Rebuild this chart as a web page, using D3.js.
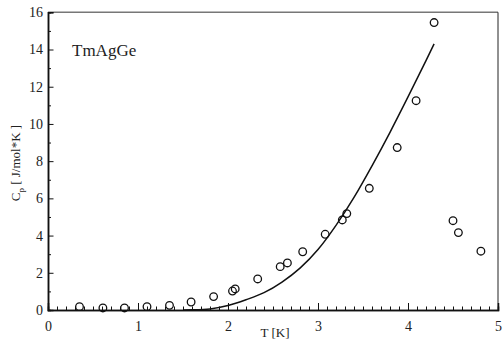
<!DOCTYPE html>
<html><head><meta charset="utf-8">
<script src="https://cdn.jsdelivr.net/npm/d3@7"></script>
<style>body{margin:0;background:#fff}svg{display:block}svg text{font-family:'Liberation Serif','Times New Roman',Times,'DejaVu Serif',serif !important;fill:#222}</style>
</head><body>
<script>
const dataT = [0.35,0.61,0.85,1.10,1.35,1.59,1.84,2.05,2.08,2.33,2.58,2.66,2.83,3.08,3.27,3.32,3.57,3.88,4.09,4.29,4.50,4.56,4.81];
const dataC = [0.18,0.11,0.11,0.18,0.25,0.43,0.72,1.02,1.13,1.67,2.33,2.53,3.13,4.07,4.84,5.18,6.54,8.73,11.25,15.45,4.80,4.16,3.16];
const fitT = [1.5,1.6,1.8,2.0,2.2,2.4,2.6,2.8,3.0,3.2,3.4,3.6,3.8,4.0,4.2,4.29];
const fitC = [0.0,0.01,0.06,0.24,0.55,0.93,1.5,2.25,3.25,4.55,6.05,7.75,9.55,11.45,13.4,14.3];
const xTicks = [0,1,2,3,4,5];
const yTicks = [0,2,4,6,8,10,12,14,16];
const title = "TmAgGe";

const W=503,H=343, L=48, R=498, T=12.3, B=310;
const svg=d3.select("body").append("svg").attr("width",W).attr("height",H);
const x=d3.scaleLinear().domain([0,5]).range([L,R]);
const y=d3.scaleLinear().domain([0,16]).range([B,T]);

// frame
svg.append("line").attr("x1",L).attr("x2",R).attr("y1",T).attr("y2",T).attr("stroke","#777").attr("stroke-width",1.5);
svg.append("line").attr("x1",R).attr("x2",R).attr("y1",T).attr("y2",B).attr("stroke","#222").attr("stroke-width",1);

// x axis
const xMinor=d3.range(0,50).map(i=>i/10).filter(v=>Math.abs(v-Math.round(v))>1e-6);
const gx=svg.append("g").attr("transform",`translate(0,${B})`);
gx.call(d3.axisBottom(x).tickValues(xMinor).tickSize(-3.5).tickFormat(""));
gx.append("g").call(d3.axisBottom(x).tickValues(xTicks).tickSize(-7).tickFormat(d3.format("d")).tickPadding(11));
gx.selectAll(".domain").attr("stroke","#111").attr("stroke-width",1.5);
gx.selectAll("line").attr("stroke","#111").attr("stroke-width",1);
gx.selectAll("text").attr("font-size",14).attr("fill","#222");

// y axis
const yMinor=d3.range(1,16,2);
const gy=svg.append("g").attr("transform",`translate(${L},0)`);
gy.call(d3.axisLeft(y).tickValues(yMinor).tickSize(-3).tickFormat(""));
gy.append("g").call(d3.axisLeft(y).tickValues(yTicks).tickSize(-5.5).tickFormat(d3.format("d")).tickPadding(5));
gy.selectAll(".domain").attr("stroke","#111").attr("stroke-width",1.5);
gy.selectAll("line").attr("stroke","#111").attr("stroke-width",1);
gy.selectAll("text").attr("font-size",14).attr("fill","#222");

// fit curve
const fit=fitT.map((t,i)=>[t,fitC[i]]);
svg.append("path").datum(fit).attr("fill","none").attr("stroke","#111").attr("stroke-width",1.5)
  .attr("d",d3.line().x(d=>x(d[0])).y(d=>y(d[1])).curve(d3.curveMonotoneX));

// data
svg.append("g").selectAll("circle").data(dataT.map((t,i)=>[t,dataC[i]])).join("circle")
  .attr("cx",d=>x(d[0])).attr("cy",d=>y(d[1])).attr("r",3.8)
  .attr("fill","none").attr("stroke","#111").attr("stroke-width",1.3);

// labels
svg.append("text").attr("x",72).attr("y",56).attr("font-size",17).text(title);
svg.append("text").attr("x",275).attr("y",337).attr("text-anchor","middle").attr("font-size",13).text("T [K]");
const yl=svg.append("text").attr("transform","translate(20,163) rotate(-90)").attr("text-anchor","middle").attr("font-size",13);
yl.append("tspan").text("C");
yl.append("tspan").attr("font-size",9).attr("dy",4).text("p");
yl.append("tspan").attr("dy",-4).text(" [ J/mol*K ]");
</script>
</body></html>
